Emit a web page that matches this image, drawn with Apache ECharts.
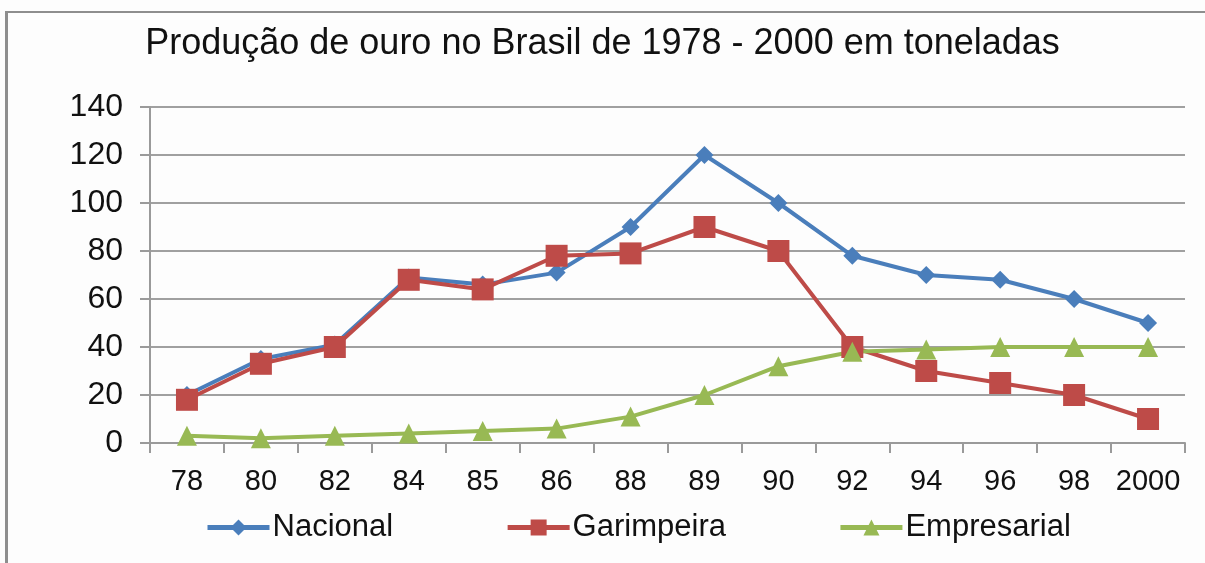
<!DOCTYPE html>
<html>
<head>
<meta charset="utf-8">
<script src="https://cdn.jsdelivr.net/npm/echarts@6/dist/echarts.min.js"></script>
<style>
  html, body { margin: 0; padding: 0; background: #fdfdfd; }
  #frame { position: absolute; left: 5px; top: 11px; width: 1205px; height: 560px;
           border-top: 2px solid #8e8e8e; border-left: 3px solid #8e8e8e; }
  #chart { position: absolute; left: 0; top: 0; width: 1205px; height: 563px; }
</style>
</head>
<body>
<div id="frame"></div>
<div id="chart"></div>
<script>
// anos (eixo x)
var categories = ['78', '80', '82', '84', '85', '86', '88', '89', '90', '92', '94', '96', '98', '2000'];
// produção em toneladas
var nacional    = [20, 35, 41, 69, 66, 71, 90, 120, 100, 78, 70, 68, 60, 50];
var garimpeira  = [18, 33, 40, 68, 64, 78, 79, 90, 80, 40, 30, 25, 20, 10];
var empresarial = [3, 2, 3, 4, 5, 6, 11, 20, 32, 38, 39, 40, 40, 40];

var font = '"Liberation Sans", Arial, sans-serif';

var chart = echarts.init(document.getElementById('chart'));
chart.setOption({
    animation: false,
    title: {
        text: 'Produção de ouro no Brasil de 1978 - 2000 em toneladas',
        left: 'center',
        top: 21,
        textStyle: { fontFamily: font, fontSize: 36, fontWeight: 'normal', color: '#111' }
    },
    legend: {
        left: 200,
        top: 507,
        itemWidth: 62,
        itemHeight: 20,
        itemGap: 112,
        lineStyle: { width: 5 },
        textStyle: { fontFamily: font, fontSize: 31, color: '#111', padding: [0, 0, 0, -2] },
        data: ['Nacional', 'Garimpeira', 'Empresarial']
    },
    grid: { left: 150, right: 20, top: 107, bottom: 120 },
    xAxis: {
        type: 'category',
        data: categories,
        boundaryGap: true,
        axisLine: { lineStyle: { color: '#9a9a9a', width: 2 } },
        axisTick: { show: true, length: 10, interval: 0, lineStyle: { color: '#9a9a9a', width: 2 } },
        axisLabel: { fontFamily: font, fontSize: 29, color: '#111', margin: 24, interval: 0 }
    },
    yAxis: {
        type: 'value',
        min: 0,
        max: 140,
        interval: 20,
        axisLine: { show: true, lineStyle: { color: '#9a9a9a', width: 2 } },
        axisTick: { show: true, length: 10, lineStyle: { color: '#9a9a9a', width: 2 } },
        axisLabel: { fontFamily: font, fontSize: 32, color: '#111', margin: 27 },
        splitLine: { lineStyle: { color: '#a0a0a0', width: 2 } }
    },
    series: [
        {
            name: 'Nacional', type: 'line', data: nacional,
            symbol: 'diamond', symbolSize: 18,
            lineStyle: { color: '#4a7ebb', width: 4 },
            itemStyle: { color: '#4a7ebb' }
        },
        {
            name: 'Garimpeira', type: 'line', data: garimpeira,
            symbol: 'rect', symbolSize: 22,
            lineStyle: { color: '#be4b48', width: 4 },
            itemStyle: { color: '#be4b48' }
        },
        {
            name: 'Empresarial', type: 'line', data: empresarial,
            symbol: 'triangle', symbolSize: 20,
            lineStyle: { color: '#98b954', width: 4 },
            itemStyle: { color: '#98b954' }
        }
    ]
});
</script>
</body>
</html>
